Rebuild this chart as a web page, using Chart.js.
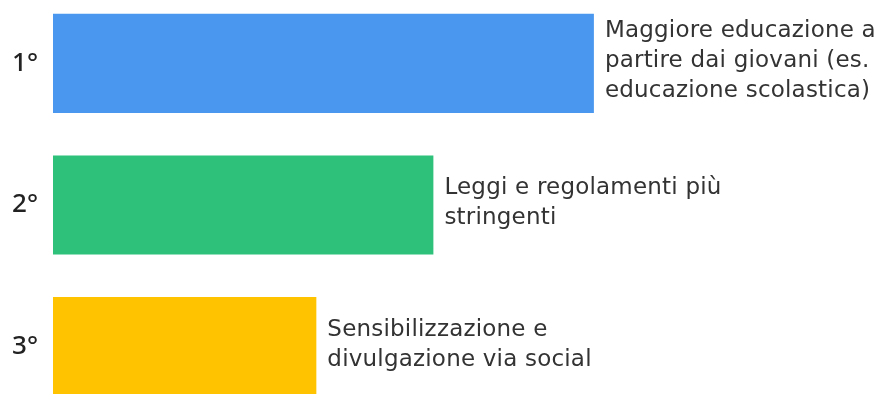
<!DOCTYPE html>
<html>
<head>
<meta charset="utf-8">
<script src="https://cdn.jsdelivr.net/npm/chart.js@4.4.0/dist/chart.umd.min.js"></script>
<style>
  html, body { margin: 0; padding: 0; background: #ffffff; overflow: hidden; }
  #wrap { position: absolute; left: 0; top: -38px; width: 889px; height: 486px; }
</style>
</head>
<body>
<div id="wrap"><canvas id="rankChart"></canvas></div>
<script>
// Ranking of proposed measures
const ranks = ['1°', '2°', '3°'];
const scores = [64.7, 45.5, 31.5];
const answers = [
  ['Maggiore educazione a', 'partire dai giovani (es.', 'educazione scolastica)'],
  ['Leggi e regolamenti più', 'stringenti'],
  ['Sensibilizzazione e', 'divulgazione via social']
];
const barColors = ['#4a97f0', '#2dc17a', '#ffc300'];

// Draws the answer text next to the end of each bar
const answerLabels = {
  id: 'answerLabels',
  afterDatasetsDraw(chart) {
    const ctx = chart.ctx;
    const meta = chart.getDatasetMeta(0);
    const lineHeight = 30;
    ctx.save();
    ctx.font = '23px "DejaVu Sans"';
    ctx.letterSpacing = '0.2px';
    ctx.fillStyle = '#333333';
    ctx.textAlign = 'left';
    ctx.textBaseline = 'alphabetic';
    meta.data.forEach((bar, i) => {
      const lines = answers[i];
      let y = bar.y - (lines.length - 1) * lineHeight / 2 + 4;
      lines.forEach((line) => {
        ctx.fillText(line, bar.x + 11, y);
        y += lineHeight;
      });
    });
    ctx.restore();
  }
};

const ctx = document.getElementById('rankChart').getContext('2d');

new Chart(ctx, {
  type: 'bar',
  data: {
    labels: ranks,
    datasets: [{
      data: scores,
      backgroundColor: barColors,
      borderWidth: 0,
      barPercentage: 0.7,
      categoryPercentage: 1
    }]
  },
  options: {
    indexAxis: 'y',
    responsive: true,
    maintainAspectRatio: false,
    animation: false,
    layout: { padding: 0 },
    plugins: {
      legend: { display: false },
      tooltip: { enabled: false }
    },
    scales: {
      x: {
        display: false,
        min: 0,
        max: 100
      },
      y: {
        grid: { display: false, drawTicks: false },
        border: { display: false },
        ticks: {
          color: '#222222',
          padding: 15,
          font: { family: '"Noto Sans"', size: 26, weight: '500' }
        },
        afterFit: (scale) => { scale.width = 53; }
      }
    }
  },
  plugins: [answerLabels]
});
</script>
</body>
</html>
